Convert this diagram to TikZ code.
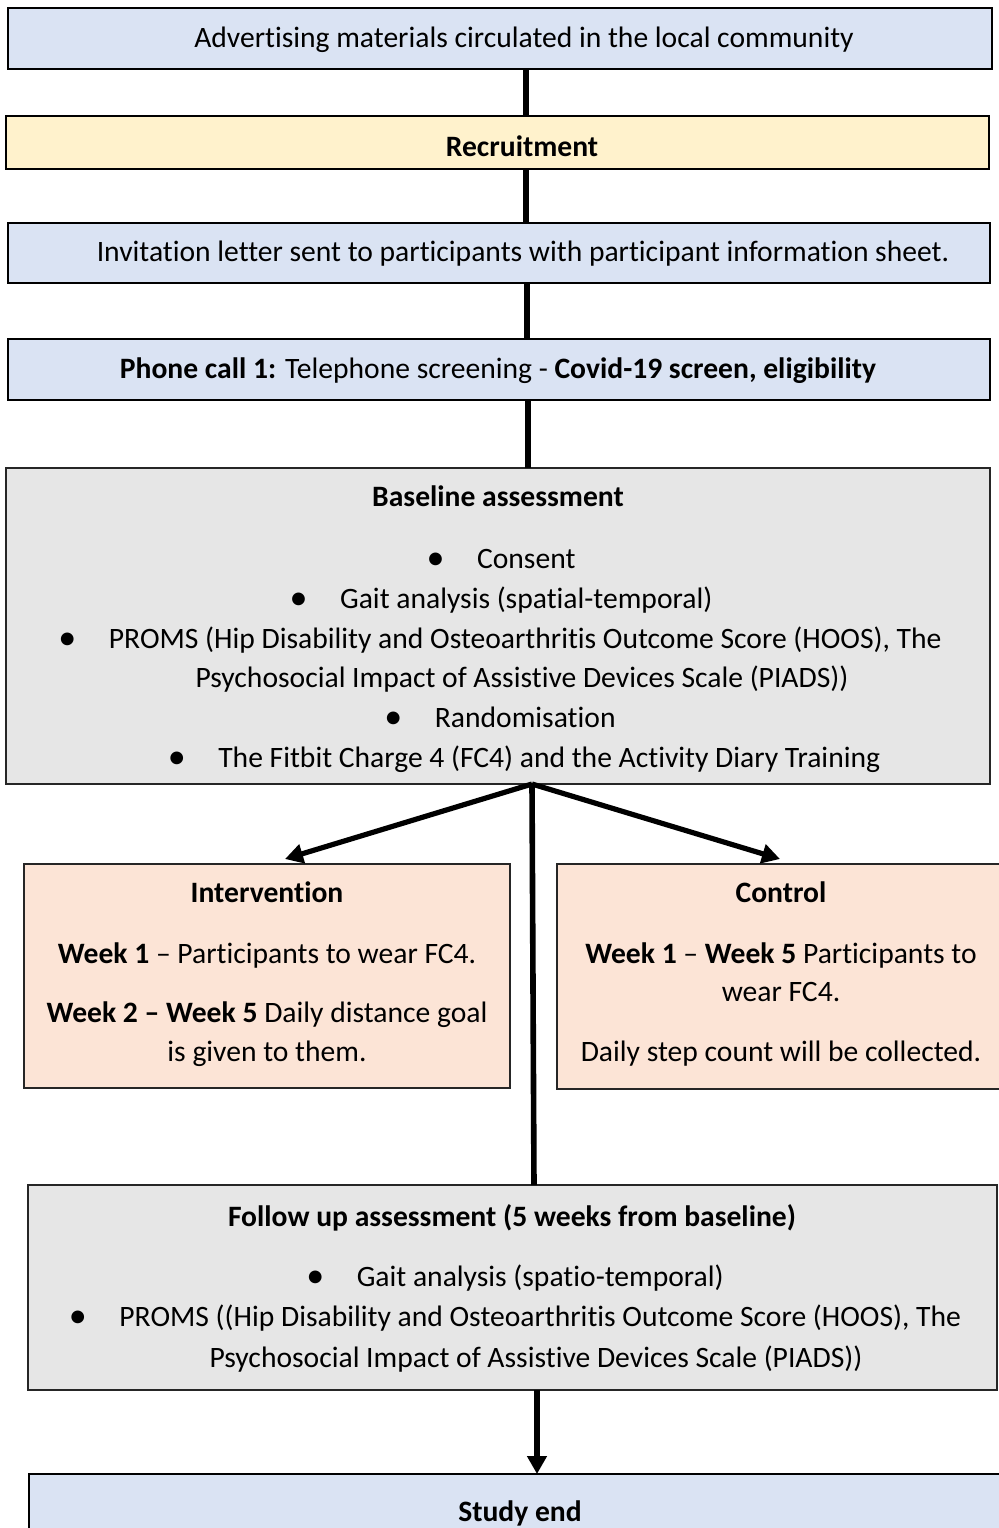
\documentclass[tikz,border=0pt]{standalone}
\usepackage{fontspec}
\setmainfont{Carlito}[Ligatures={TeX,NoCommon}]
\usepackage{tikz}
\usetikzlibrary{arrows.meta}
\usetikzlibrary{fit}

\definecolor{boxblue}{HTML}{DAE3F3}
\definecolor{boxyellow}{HTML}{FFF2CC}
\definecolor{boxgrey}{HTML}{E6E6E6}
\definecolor{boxpeach}{HTML}{FCE4D6}

\tikzset{
    box/.style={draw=black, line width=1pt, inner sep=0pt, outer sep=0pt},
    thinbox/.style={draw=black!85, line width=0.6pt, inner sep=0pt, outer sep=0pt},
    bluebox/.style={box, fill=boxblue},
    yellowbox/.style={box, fill=boxyellow},
    greybox/.style={thinbox, fill=boxgrey},
    peachbox/.style={thinbox, fill=boxpeach},
    txt/.style={inner sep=0pt, anchor=base, font=\fontsize{14.8}{17}\selectfont},
    flowline/.style={line width=2.8pt},
    flowarrow/.style={line width=2.6pt, -{Triangle[length=9pt,width=9.5pt]}}
}

\newcommand{\bul}{\raisebox{-0.06em}{\fontsize{18}{18}\selectfont\textbullet}\hspace{1.1em}}

\begin{document}
\begin{tikzpicture}[x=0.5pt, y=-0.5pt]
    \useasboundingbox (0,0) rectangle (998,1528);
    \fill[white] (0,0) rectangle (998,1528);

    % boxes
    \node[bluebox, fit={(8,8) (992,69)}] (advert) {};
    \node[yellowbox, fit={(6,116) (989,169)}] (recruit) {};
    \node[bluebox, fit={(8,223) (990,283)}] (invite) {};
    \node[bluebox, fit={(8,339) (990,400)}] (phone) {};
    \node[greybox, fit={(6,468) (990,784)}] (baseline) {};
    \node[peachbox, fit={(24,864) (510,1088)}] (intv) {};
    \node[peachbox, fit={(557,864) (1006,1089)}] (ctrl) {};
    \node[greybox, fit={(28,1185) (997,1390)}] (followup) {};
    \node[bluebox, fit={(29,1474) (1010,1560)}] (studyend) {};

    % texts
    \node[txt] (advert-t) at (524,47) {Advertising materials circulated in the local community};
    \node[txt] (recruit-t) at (522,156) {\textbf{Recruitment}};
    \node[txt] (invite-t) at (523,261) {Invitation letter sent to participants with participant information sheet.};
    \node[txt] (phone-t) at (498,378) {\textbf{Phone call 1:} Telephone screening - \textbf{Covid-19 screen, eligibility}};

    \node[txt] (base-t) at (498,506) {\textbf{Baseline assessment}};
    \node[txt] (base-a) at (501,568) {\bul Consent};
    \node[txt] (base-b) at (501,608) {\bul Gait analysis (spatial-temporal)};
    \node[txt] (base-c) at (500,648) {\bul PROMS (Hip Disability and Osteoarthritis Outcome Score (HOOS), The};
    \node[txt] (base-d) at (522,687) {Psychosocial Impact of Assistive Devices Scale (PIADS))};
    \node[txt] (base-e) at (500,727) {\bul Randomisation};
    \node[txt] (base-f) at (524,767) {\bul The Fitbit Charge 4 (FC4) and the Activity Diary Training};

    \node[txt] (intv-t) at (267,902) {\textbf{Intervention}};
    \node[txt] (intv-a) at (267,963) {\textbf{Week 1} – Participants to wear FC4.};
    \node[txt] (intv-b) at (267,1022) {\textbf{Week 2 – Week 5} Daily distance goal};
    \node[txt] (intv-c) at (267,1061) {is given to them.};

    \node[txt] (ctrl-t) at (781,902) {\textbf{Control}};
    \node[txt] (ctrl-a) at (781,963) {\textbf{Week 1} – \textbf{Week 5} Participants to};
    \node[txt] (ctrl-b) at (781,1001) {wear FC4.};
    \node[txt] (ctrl-c) at (781,1061) {Daily step count will be collected.};

    \node[txt] (follow-t) at (512,1226) {\textbf{Follow up assessment (5 weeks from baseline)}};
    \node[txt] (follow-a) at (515,1286) {\bul Gait analysis (spatio-temporal)};
    \node[txt] (follow-b) at (515,1326) {\bul PROMS ((Hip Disability and Osteoarthritis Outcome Score (HOOS), The};
    \node[txt] (follow-c) at (536,1367) {Psychosocial Impact of Assistive Devices Scale (PIADS))};

    \node[txt] (end-t) at (520,1521) {\textbf{Study end}};

    % connectors
    \coordinate (split) at (532,784);
    \coordinate (intvtip) at (285,859);
    \coordinate (ctrltip) at (780,859);
    \draw[flowline] (advert.south -| 526,0) -- (recruit.north -| 526,0);
    \draw[flowline] (recruit.south -| 526,0) -- (invite.north -| 526,0);
    \draw[flowline] (invite.south -| 527,0) -- (phone.north -| 527,0);
    \draw[flowline] (phone.south -| 528,0) -- (baseline.north -| 528,0);
    \draw[flowarrow] (split) -- (intvtip);
    \draw[flowarrow] (split) -- (ctrltip);
    \draw[flowline] (split) -- (followup.north -| 534,0);
    \draw[flowarrow] (followup.south -| 537,0) -- (studyend.north -| 537,0);
\end{tikzpicture}
\end{document}
